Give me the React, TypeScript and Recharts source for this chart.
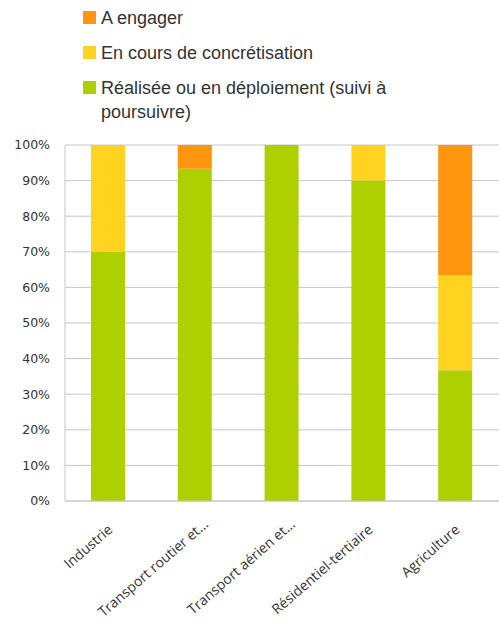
import { BarChart, Bar, XAxis, YAxis, CartesianGrid, Legend } from "recharts";

const categories = [
  "Industrie",
  "Transport routier et...",
  "Transport aérien et...",
  "Résidentiel-tertiaire",
  "Agriculture",
];
const realisee = [70, 93.3, 100, 90, 36.7];
const enCours = [30, 0, 0, 10, 26.7];
const aEngager = [0, 6.7, 0, 0, 36.6];
const yTicks = [0, 10, 20, 30, 40, 50, 60, 70, 80, 90, 100];

const data = categories.map((name, i) => ({
  name,
  realisee: realisee[i],
  enCours: enCours[i],
  aEngager: aEngager[i],
}));

const TEXT = "#333333";

function LegendBox({ payload }: any) {
  const items = payload || [];
  return (
    <div
      style={{
        height: 145,
        boxSizing: "border-box",
        paddingTop: 6,
        paddingLeft: 83,
        fontFamily: "Liberation Sans, Arial, sans-serif",
        fontSize: 18,
        lineHeight: "24px",
        color: TEXT,
        textAlign: "left",
      }}
    >
      {items.map((it: any) => (
        <div key={it.value} style={{ display: "flex", marginBottom: 11, width: 360 }}>
          <span
            style={{
              width: 13,
              height: 13,
              background: it.color,
              marginTop: 5,
              marginRight: 5,
              flexShrink: 0,
            }}
          />
          <span>{it.value}</span>
        </div>
      ))}
    </div>
  );
}

function XTick({ x, y, payload }: any) {
  // truncated labels sit a little further right in the original
  const shift = String(payload.value).endsWith("...") ? 9 : 0;
  const tx = x + 5 + shift;
  const ty = y + 22 - shift * 0.6;
  return (
    <text
      x={tx}
      y={ty}
      transform={`rotate(-41, ${tx}, ${ty})`}
      textAnchor="end"
      fontFamily="Open Sans, sans-serif"
      fontSize={14}
      fill={TEXT}
    >
      {payload.value}
    </text>
  );
}

export default function App() {
  return (
    <div style={{ position: "absolute", left: 0, top: 0, background: "#fff" }}>
      <BarChart
        width={499}
        height={623}
        data={data}
        margin={{ top: 0, right: 0, bottom: 0, left: 0 }}
      >
        <CartesianGrid vertical={false} stroke="#c6c6c6" />
        <XAxis
          dataKey="name"
          height={122}
          interval={0}
          tick={<XTick />}
          tickLine={false}
          axisLine={{ stroke: "#c6c6c6" }}
        />
        <YAxis
          width={65}
          domain={[0, 100]}
          ticks={yTicks}
          tickFormatter={(v) => `${v}%`}
          tickSize={0}
          tickMargin={15}
          tickLine={false}
          axisLine={{ stroke: "#c6c6c6" }}
          tick={{ fill: TEXT, fontSize: 12.5, fontFamily: "DejaVu Sans, sans-serif" }}
        />
        <Legend verticalAlign="top" align="left" content={<LegendBox />} />
        <Bar dataKey="realisee" name="Réalisée ou en déploiement (suivi à poursuivre)" stackId="a" fill="#aecf00" barSize={34} isAnimationActive={false} />
        <Bar dataKey="enCours" name="En cours de concrétisation" stackId="a" fill="#ffd320" barSize={34} isAnimationActive={false} />
        <Bar dataKey="aEngager" name="A engager" stackId="a" fill="#ff950e" barSize={34} isAnimationActive={false} />
      </BarChart>
    </div>
  );
}
